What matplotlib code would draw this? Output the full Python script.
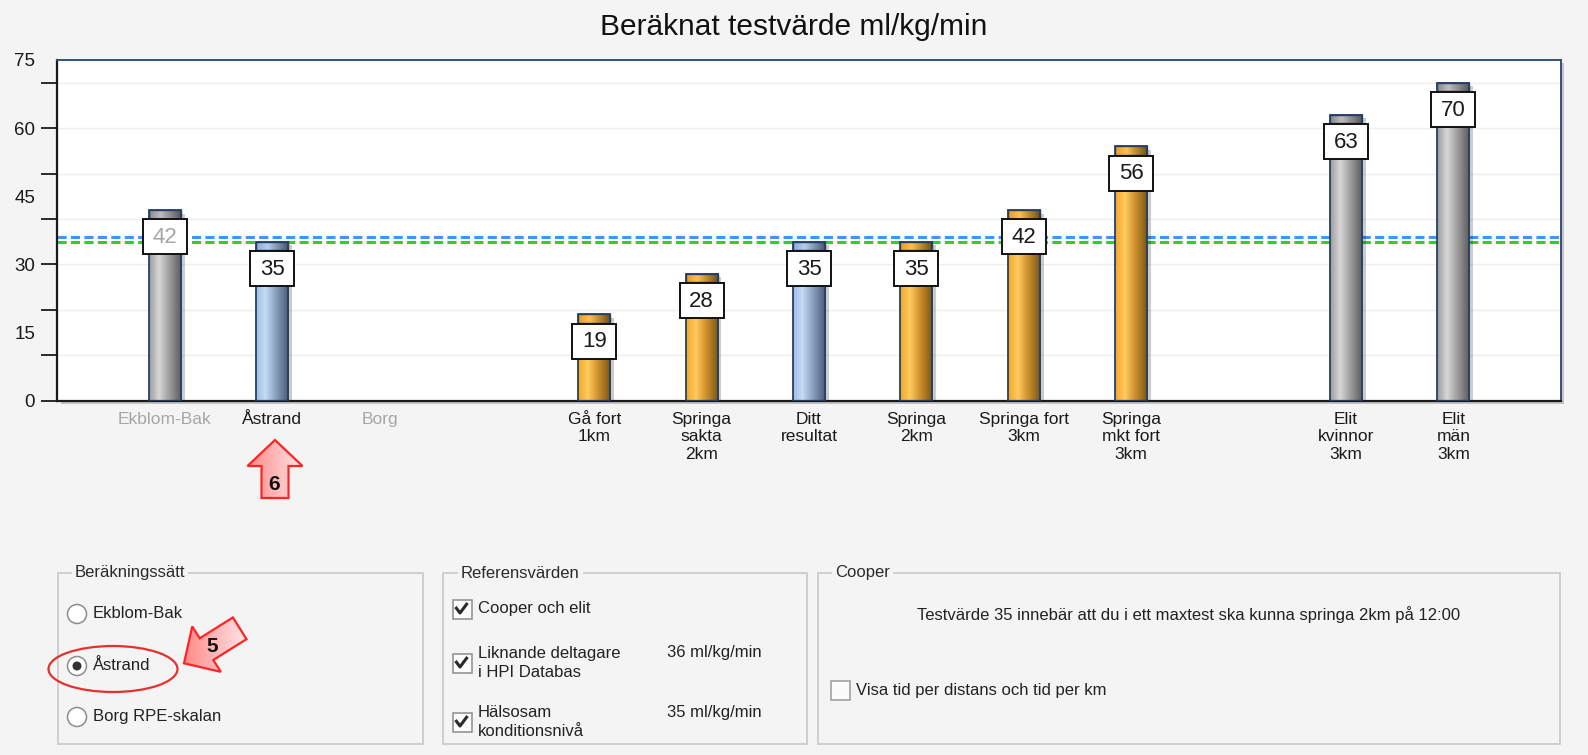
import numpy as np
import matplotlib
matplotlib.use('Agg')
import matplotlib.pyplot as plt
from matplotlib.patches import Rectangle, Polygon, Ellipse, Circle
from matplotlib.colors import LinearSegmentedColormap
from matplotlib.transforms import Affine2D, ScaledTranslation

plt.rcParams['font.family'] = ['Liberation Sans', 'DejaVu Sans']

title = 'Beräknat testvärde ml/kg/min'
categories = ['Ekblom-Bak', 'Åstrand', 'Borg', 'Gå fort\n1km', 'Springa\nsakta\n2km',
              'Ditt\nresultat', 'Springa\n2km', 'Springa fort\n3km', 'Springa\nmkt fort\n3km',
              'Elit\nkvinnor\n3km', 'Elit\nmän\n3km']
slots = [0, 1, 2, 4, 5, 6, 7, 8, 9, 11, 12]
values = [42, 35, 0, 19, 28, 35, 35, 42, 56, 63, 70]
kinds = ['grey', 'blue', 'grey', 'orange', 'orange', 'blue', 'orange', 'orange', 'orange', 'grey', 'grey']
dimmed = ['Ekblom-Bak', 'Borg']
hpi_value = 36
healthy_value = 35
y_labels = [0, 15, 30, 45, 60, 75]
y_marks = [0, 10, 20, 30, 40, 50, 60, 70]

radio_labels = ['Ekblom-Bak', 'Åstrand', 'Borg RPE-skalan']
radio_selected = 'Åstrand'
check_labels = ['Cooper och elit', 'Liknande deltagare\ni HPI Databas', 'Hälsosam\nkonditionsnivå']
check_values = ['', '36 ml/kg/min', '35 ml/kg/min']
cooper_text = 'Testvärde 35 innebär att du i ett maxtest ska kunna springa 2km på 12:00'
cooper_check = 'Visa tid per distans och tid per km'

bg = '#f4f4f4'
grey_txt = '#a6a6a6'
dark = '#1a1a1a'

# cylinder-ish gradients for the bars
cmaps = {
    'grey': LinearSegmentedColormap.from_list('g', [(0, '#9c9c9c'), (0.3, '#d8d8d8'), (0.55, '#aaaaaa'), (1, '#5a5a5a')]),
    'blue': LinearSegmentedColormap.from_list('b', [(0, '#9fbde6'), (0.28, '#c6dbf5'), (0.55, '#92aaca'), (1, '#4a5a72')]),
    'orange': LinearSegmentedColormap.from_list('o', [(0, '#f3a628'), (0.3, '#ffcb5e'), (0.55, '#d99b36'), (1, '#7a5410')]),
}
cap_cmaps = {
    'grey': LinearSegmentedColormap.from_list('gc', [(0, '#8a8a8a'), (0.35, '#bdbdbd'), (1, '#555555')]),
    'blue': LinearSegmentedColormap.from_list('bc', [(0, '#8eaad4'), (0.35, '#b6ccec'), (1, '#44536a')]),
    'orange': LinearSegmentedColormap.from_list('oc', [(0, '#e99c20'), (0.35, '#fcc050'), (1, '#6e4c0e')]),
}
pink = LinearSegmentedColormap.from_list('p', ['#ff8a8a', '#ffe4e4'])
grad = np.linspace(0, 1, 64).reshape(1, -1)

fig = plt.figure(figsize=(15.88, 7.55), dpi=100, facecolor=bg)

# overlay in pixel coordinates for the form controls
ui = fig.add_axes([0, 0, 1, 1], zorder=0)
ui.set_facecolor('none')
ui.axis('off')

ax = fig.add_axes([57.3 / 1588, 1 - 400.7 / 755, (1560.7 - 57.3) / 1588, (400.7 - 60) / 755], zorder=1)
ax.set_facecolor('white')
ax.set_xlim(-1, 13)
ax.set_ylim(0, 75)

# ---- chart ----
for v in y_marks[1:]:
    ax.axhline(v, color='#eeeeee', lw=1, zorder=0.5)
ax.axhline(hpi_value, color='#3b97ff', lw=2.2, ls=(0, (3, 1.4)), zorder=1)
ax.axhline(healthy_value, color='#3cc63c', lw=2.2, ls=(0, (3, 1.4)), zorder=1)

w = 0.30
cap = 1.9
for s, v, k, name in zip(slots, values, kinds, categories):
    if v <= 0:
        continue
    x0 = s - w / 2
    ax.add_patch(Rectangle((x0 + 0.035, 0), w, v - 0.8, facecolor='black', alpha=0.2, lw=0, zorder=1.8))
    ax.imshow(grad, extent=[x0, x0 + w, 0, v], aspect='auto', cmap=cmaps[k], interpolation='bilinear', zorder=2)
    ax.imshow(grad, extent=[x0, x0 + w, v - cap, v], aspect='auto', cmap=cap_cmaps[k], interpolation='bilinear', zorder=2.1)
    ax.add_patch(Rectangle((x0, 0), w, v, fill=False, edgecolor='#24406a', lw=1.3, zorder=3))
    ax.add_patch(Rectangle((x0, v - cap), w, cap, fill=False, edgecolor='#24406a', lw=1.0, zorder=3))
    # value box: fixed pixel size, hung just below the bar top
    anchor = Affine2D() + ScaledTranslation(s, v, ax.transData)
    ax.add_patch(Rectangle((-22, -44.5), 44, 35, transform=anchor, fc='white', ec='#111111', lw=1.4, zorder=4))
    ax.annotate(f'{v}', (s, v), xytext=(0, -27.5), textcoords='offset pixels', ha='center', va='center',
                fontsize=16, color=grey_txt if name in dimmed else dark, zorder=5)

ax.set_xlim(-1, 13)
ax.set_ylim(0, 75)
ax.set_aspect('auto')

for side in ['left', 'bottom']:
    ax.spines[side].set_color(dark)
    ax.spines[side].set_linewidth(1.6)
for side in ['top', 'right']:
    ax.spines[side].set_color('#34507a')
    ax.spines[side].set_linewidth(1.4)

ax.yaxis.remove_overlapping_locs = False
ax.set_yticks(y_marks)
ax.set_yticklabels([])
ax.tick_params(axis='y', which='major', length=11.5, width=1.3, color=dark)
ax.set_yticks(y_labels, minor=True)
ax.set_yticklabels([str(v) for v in y_labels], minor=True)
ax.tick_params(axis='y', which='minor', length=0, pad=16, labelsize=13.5, labelcolor=dark)

ax.set_xticks(slots)
ax.set_xticklabels(categories, fontsize=12.5, linespacing=1.2)
ax.tick_params(axis='x', length=0, pad=8)
for lbl in ax.get_xticklabels():
    lbl.set_color(grey_txt if lbl.get_text() in dimmed else dark)

# ---- form around the chart ----
ui.text(794, 35, title, ha='center', va='baseline', fontsize=21.5, color='#111111')
ui.add_patch(Rectangle((60.5, 63), 1503, 341, fc='#c4c4c4', ec='none', zorder=0))

frames = [(58, 573, 423, 744, 'Beräkningssätt', 75),
          (443, 573, 807, 744, 'Referensvärden', 461),
          (818, 573, 1560, 744, 'Cooper', 835)]
for x0, y0, x1, y1, name, tx in frames:
    ui.add_patch(Rectangle((x0, y0), x1 - x0, y1 - y0, fill=False, ec='#c8c8c8', lw=1.2))
    ui.text(tx, y0, name, ha='left', va='center', fontsize=12, color='#2a2a2a',
            bbox=dict(fc=bg, ec='none', pad=2))

for label, y in zip(radio_labels, [614, 666, 717]):
    ui.add_patch(Circle((77, y), 9.5, fc='white', ec='#8c8c8c', lw=1.1))
    if label == radio_selected:
        ui.add_patch(Circle((77, y), 4.5, fc='#333333', ec='none'))
    ui.text(93, y, label, ha='left', va='center', fontsize=12, color='#222222')

for label, val, y in zip(check_labels, check_values, [609, 663, 722]):
    ui.add_patch(Rectangle((452.5, y - 9.5), 19, 19, fc='#fbfbfb', ec='#8c8c8c', lw=1.1))
    ui.plot([455.5, 460, 467.5], [y - 2, y + 4, y - 6], color='#2a2a2a', lw=2.2, solid_capstyle='butt')
    ui.text(478, y, label, ha='left', va='center', fontsize=12, color='#222222', linespacing=1.3)
    if val:
        ui.text(667, y - 10, val, ha='left', va='center', fontsize=12, color='#222222')

ui.text(1189, 615, cooper_text, ha='center', va='center', fontsize=12, color='#222222')
ui.add_patch(Rectangle((830.5, 680.5), 19, 19, fc='#fbfbfb', ec='#9a9a9a', lw=1.1))
ui.text(856, 690, cooper_check, ha='left', va='center', fontsize=12, color='#222222')

ui.add_patch(Ellipse((113, 669), 129, 46, fill=False, ec='#e53030', lw=1.6, zorder=5))


def block_arrow(tail, tip, shaft_w, head_w, head_l, label, label_xy):
    tail = np.array(tail, float)
    tip = np.array(tip, float)
    u = (tip - tail) / np.linalg.norm(tip - tail)
    n = np.array([-u[1], u[0]])
    base = tip - u * head_l
    pts = [tail + n * shaft_w / 2, base + n * shaft_w / 2, base + n * head_w / 2, tip,
           base - n * head_w / 2, base - n * shaft_w / 2, tail - n * shaft_w / 2]
    pts = np.array(pts)
    poly = Polygon(pts, closed=True, fc='none', ec='#ff2424', lw=1.6, zorder=6)
    ui.add_patch(poly)
    im = ui.imshow(grad, extent=[pts[:, 0].min(), pts[:, 0].max(), pts[:, 1].max(), pts[:, 1].min()],
                   aspect='auto', cmap=pink, interpolation='bilinear', zorder=5)
    im.set_clip_path(poly)
    ui.text(label_xy[0], label_xy[1], label, ha='center', va='center', fontsize=15,
            fontweight='bold', color='#111111', zorder=7)


block_arrow((275, 498), (275, 440), 27, 55, 26, '6', (274, 484))
block_arrow((239.7, 628.3), (184, 663.3), 25.6, 53.6, 26.6, '5', (212, 647))

ui.set_xlim(0, 1588)
ui.set_ylim(755, 0)

fig.savefig('out.png', dpi=100, facecolor=bg)
